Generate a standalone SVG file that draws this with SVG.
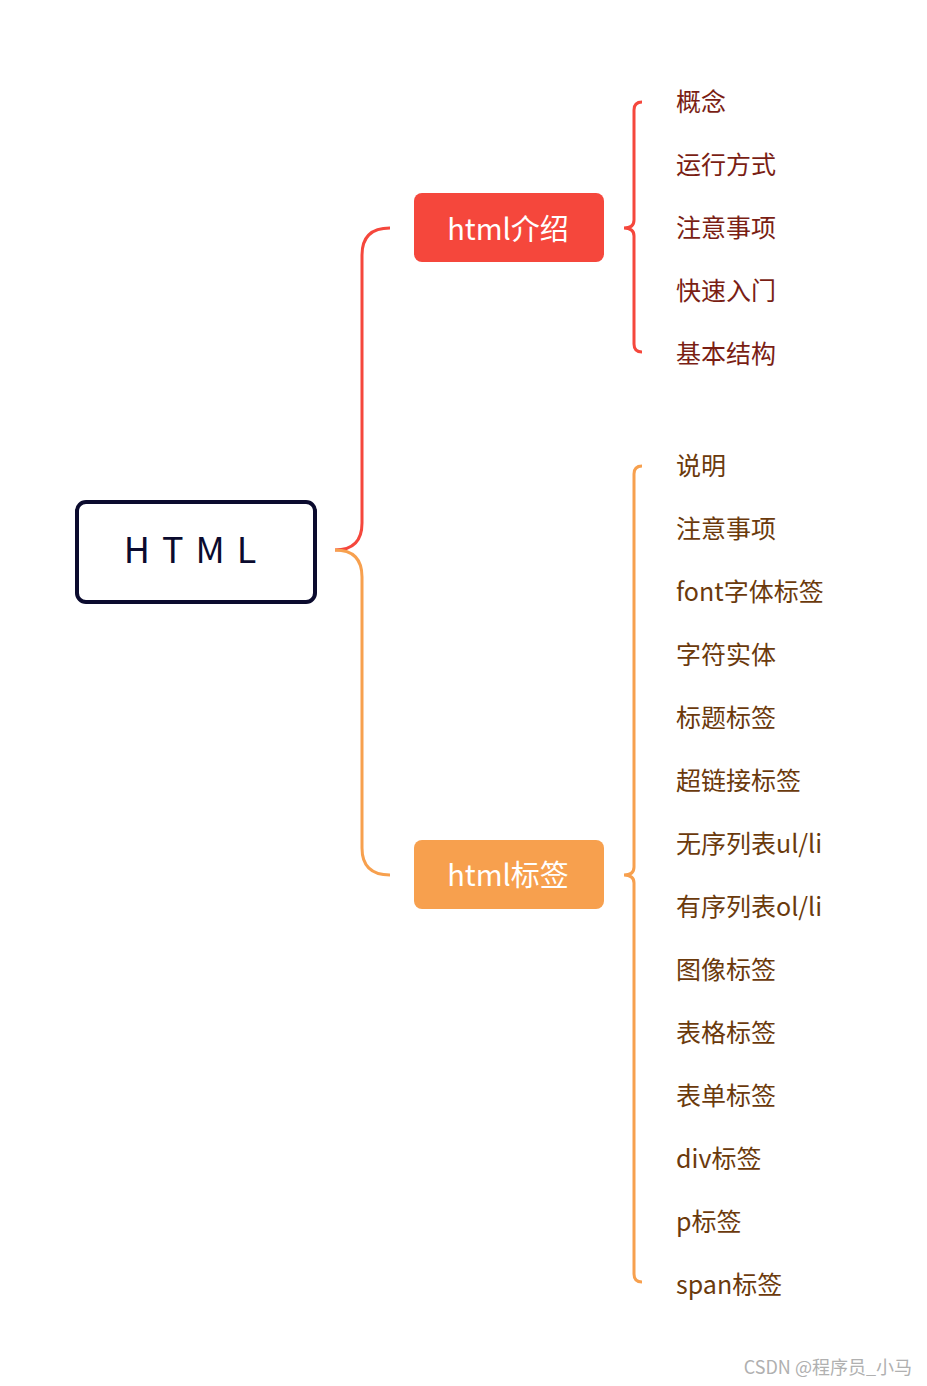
<svg xmlns="http://www.w3.org/2000/svg" width="927" height="1386" viewBox="0 0 927 1386">
<style>
text{font-family:"Noto Sans CJK SC","Noto Sans",sans-serif}
.r{fill:#7a1e14;font-size:25px}
.o{fill:#6b3a0c;font-size:25px}
.lr{fill:none;stroke:#f5473c;stroke-width:3}
.lo{fill:none;stroke:#f7a04e;stroke-width:3}
</style>
<rect width="927" height="1386" fill="#fff"/>
<g id="connectors">
<path class="lr" d="M335 550 Q362 550 362 523 L362 255 Q362 228 390 228"/>
<path class="lo" d="M335 550 Q362 550 362 577 L362 848 Q362 875 390 875"/>
<path class="lr" d="M642 102 Q634 102 634 110 L634 220 Q634 228 624 228 Q634 228 634 236 L634 344 Q634 352 642 352"/>
<path class="lo" d="M642 466 Q634 466 634 474 L634 867 Q634 875 624 875 Q634 875 634 883 L634 1274 Q634 1282 642 1282"/>
</g>
<g id="root"><rect x="77" y="502" width="238" height="100" rx="9" fill="#fff" stroke="#0b0b2e" stroke-width="4"/>
<text x="196" y="563" text-anchor="middle" font-size="36" fill="#0b0b2e" letter-spacing="12" font-family="'Noto Sans',sans-serif">HTML</text></g>
<g id="n1"><rect x="414" y="193" width="190" height="69" rx="8" fill="#f5473c"/><text x="508" y="240" text-anchor="middle" font-size="29" fill="#fff">html介绍</text></g>
<g id="n2"><rect x="414" y="840" width="190" height="69" rx="8" fill="#f7a04e"/><text x="508" y="886" text-anchor="middle" font-size="29" fill="#fff">html标签</text></g>
<g id="leaves1">
<text class="r" x="676" y="111">概念</text>
<text class="r" x="676" y="174">运行方式</text>
<text class="r" x="676" y="237">注意事项</text>
<text class="r" x="676" y="300">快速入门</text>
<text class="r" x="676" y="363">基本结构</text>
</g>
<g id="leaves2">
<text class="o" x="676" y="475">说明</text>
<text class="o" x="676" y="538">注意事项</text>
<text class="o" x="676" y="601">font字体标签</text>
<text class="o" x="676" y="664">字符实体</text>
<text class="o" x="676" y="727">标题标签</text>
<text class="o" x="676" y="790">超链接标签</text>
<text class="o" x="676" y="853">无序列表ul/li</text>
<text class="o" x="676" y="916">有序列表ol/li</text>
<text class="o" x="676" y="979">图像标签</text>
<text class="o" x="676" y="1042">表格标签</text>
<text class="o" x="676" y="1105">表单标签</text>
<text class="o" x="676" y="1168">div标签</text>
<text class="o" x="676" y="1231">p标签</text>
<text class="o" x="676" y="1294">span标签</text>
</g>
<text x="912" y="1374" text-anchor="end" font-size="18" fill="#b0b0b0">CSDN @程序员_小马</text>
</svg>
